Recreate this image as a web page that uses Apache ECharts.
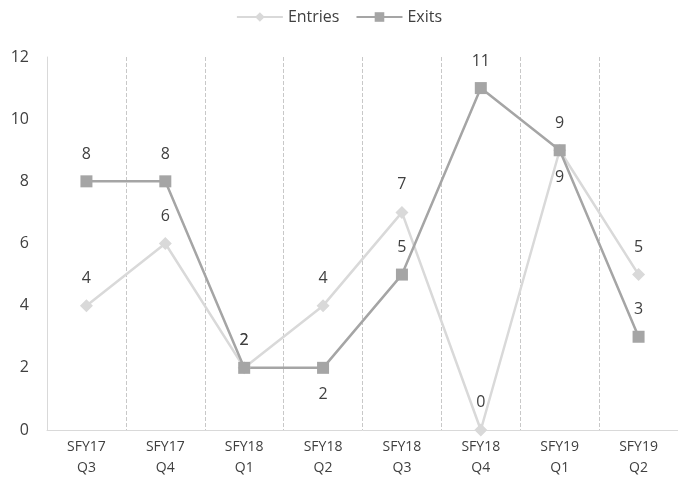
<!DOCTYPE html>
<html><head><meta charset="utf-8">
<script src="https://cdn.jsdelivr.net/npm/echarts@6/dist/echarts.min.js"></script>
<style>html,body{margin:0;padding:0;background:#fff}#c{width:678px;height:483px}</style>
</head><body><div id="c"></div>
<script>
var categories = ["SFY17\nQ3","SFY17\nQ4","SFY18\nQ1","SFY18\nQ2","SFY18\nQ3","SFY18\nQ4","SFY19\nQ1","SFY19\nQ2"];
var entries = [4,6,2,4,7,0,9,5];
var exits = [8,8,2,2,5,11,9,3];
var yTicks = [0,2,4,6,8,10,12];

var font = "'Open Sans', sans-serif";
var chart = echarts.init(document.getElementById('c'));
var entriesData = entries.map(function(v,i){
  var d = {value:v};
  if (i === 6) d.label = {position:'bottom'};
  return d;
});
var exitsData = exits.map(function(v,i){
  var d = {value:v};
  if (i === 3) d.label = {position:'bottom'};
  return d;
});
chart.setOption({
  animation:false,
  textStyle:{fontFamily:font},
  legend:{
    top:4, left:'center', itemWidth:46, itemHeight:12, itemGap:16,
    textStyle:{fontSize:16,color:'#404040',fontFamily:font},
    data:['Entries','Exits']
  },
  grid:{left:47,right:0,top:57,bottom:53},
  xAxis:{
    type:'category', data:categories, boundaryGap:true,
    axisLine:{lineStyle:{color:'#d9d9d9'}},
    axisTick:{show:false},
    splitLine:{show:true,interval:0,lineStyle:{color:'#c8c8c8',type:'dashed',width:1}},
    axisLabel:{interval:0,color:'#404040',fontSize:14,lineHeight:21,margin:7,fontFamily:font}
  },
  yAxis:{
    type:'value', min:0, max:12, interval:2,
    axisLine:{show:true,lineStyle:{color:'#d9d9d9'}},
    axisTick:{show:false},
    splitLine:{show:false},
    axisLabel:{color:'#404040',fontSize:16,margin:18,fontFamily:font,
      formatter:function(v){return yTicks.indexOf(v)>=0?String(v):'';}}
  },
  series:[
    {name:'Entries',type:'line',data:entriesData,symbol:'diamond',symbolSize:13,
     lineStyle:{color:'#d9d9d9',width:2.5},itemStyle:{color:'#d9d9d9'},
     label:{show:true,position:'top',distance:13,fontSize:16,color:'#404040',fontFamily:font}},
    {name:'Exits',type:'line',data:exitsData,symbol:'rect',symbolSize:12,
     lineStyle:{color:'#a5a5a5',width:2.5},itemStyle:{color:'#a5a5a5'},
     label:{show:true,position:'top',distance:13,fontSize:16,color:'#404040',fontFamily:font}}
  ]
});
</script></body></html>
